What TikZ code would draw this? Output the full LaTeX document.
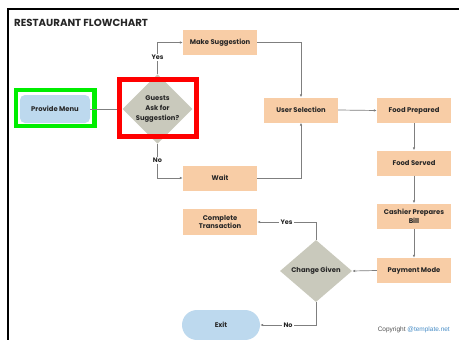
\documentclass[tikz,border=0pt]{standalone}
\usepackage{fontspec}
\setmainfont{Poppins}
\newfontfamily\arialf{Liberation Sans}
\usetikzlibrary{shapes.geometric,arrows.meta}
\definecolor{peach}{HTML}{F8CDA6}
\definecolor{lblue}{HTML}{BDD9EE}
\definecolor{dgray}{HTML}{C9C9BC}
\definecolor{txt}{HTML}{262626}
\definecolor{lgray}{HTML}{7F7F7F}
\definecolor{weblue}{HTML}{4A8FC8}
\tikzset{
  box/.style={fill=peach, minimum width=74pt, minimum height=25pt, inner sep=1pt, align=center, font=\bfseries\fontsize{6.8}{8}\selectfont, text=txt},
  bluebox/.style={fill=lblue, rounded corners=5pt, minimum width=70pt, minimum height=28pt, inner sep=1pt, font=\bfseries\fontsize{6.8}{7.5}\selectfont, text=txt},
  dia/.style={diamond, fill=dgray, inner sep=0pt, align=center, font=\bfseries\fontsize{6.8}{9.8}\selectfont, text=txt},
  conn/.style={draw=lgray, line width=0.7pt, -{Latex[length=3pt,width=2.6pt]}},
  lbl/.style={fill=white, inner sep=1.5pt, font=\bfseries\fontsize{6.5}{7}\selectfont, text=txt}
}
\begin{document}
\begin{tikzpicture}[x=1pt,y=-1pt]
\useasboundingbox (0,0) rectangle (459,340);
\fill[white] (0,0) rectangle (459,340);
% frame
\draw[line width=2pt, black] (8,340) -- (8,9) -- (459,9);
% title
\node[anchor=west, font=\bfseries\fontsize{10.2}{11}\selectfont, text=txt, inner sep=0pt] (title) at (14,23) {RESTAURANT FLOWCHART};
% nodes
\node[bluebox] (pm0) at (55,109) {Provide Menu};
\node[dia, minimum width=70pt, minimum height=58pt] (g) at (157.5,109) {Guests\\Ask for\\Suggestion?};
\node[box] (ms) at (220,42.5) {Make Suggestion};
\node[box] (wait) at (220,178) {Wait};
\node[box] (us) at (301,110) {User Selection};
\node[box] (fp) at (414,110.5) {Food Prepared};
\node[box] (fs) at (414,163) {Food Served};
\node[box] (cpb) at (414,216) {Cashier Prepares\\[1pt]Bill};
\node[box] (pay) at (414,270.5) {Payment Mode};
\node[dia, minimum width=72pt, minimum height=62pt] (cg) at (316,271) {Change Given};
\node[box, minimum height=26pt] (ct) at (220,222) {Complete\\[0.5pt]Transaction};
\node[bluebox, rounded corners=15pt, minimum width=78pt, minimum height=30pt] (exit) at (221,325) {Exit};
% highlight frames
\draw[line width=4.3pt, draw={rgb,255:red,0;green,238;blue,0}] (16.2,90.2) rectangle (94.5,126.2);
% connectors
\draw[conn] (pm0.east) -- (g.west);
\draw[conn] (g.north) |- node[lbl, pos=0.26] {Yes} (ms.west);
\draw[conn] (g.south) |- node[lbl, pos=0.24] {No} (wait.west);
\draw[conn] (ms.east) -| (us.north);
\draw[conn] (wait.east) -| (us.south);
\draw[conn] (us.east) -- (fp.west);
\draw[conn] (fp.south) -- (fs.north);
\draw[conn] (fs.south) -- (cpb.north);
\draw[conn] (cpb.south) -- (pay.north);
\draw[conn] (pay.west) -- (cg.east);
\draw[conn] (cg.north) |- node[lbl, pos=0.75] {Yes} (ct.east);
\draw[conn] (cg.south) |- node[lbl, pos=0.75] {No} (exit.east);
\draw[line width=5pt, draw={rgb,255:red,255;green,0;blue,0}] (119.5,79.5) rectangle (196.5,136.5);
% copyright
\node[anchor=east, inner sep=0pt, font=\arialf\fontsize{6.5}{7}\selectfont] (copy) at (450,330) {\textcolor{txt!80}{Copyright} \textcolor{weblue}{@template.net}};
\end{tikzpicture}
\end{document}
